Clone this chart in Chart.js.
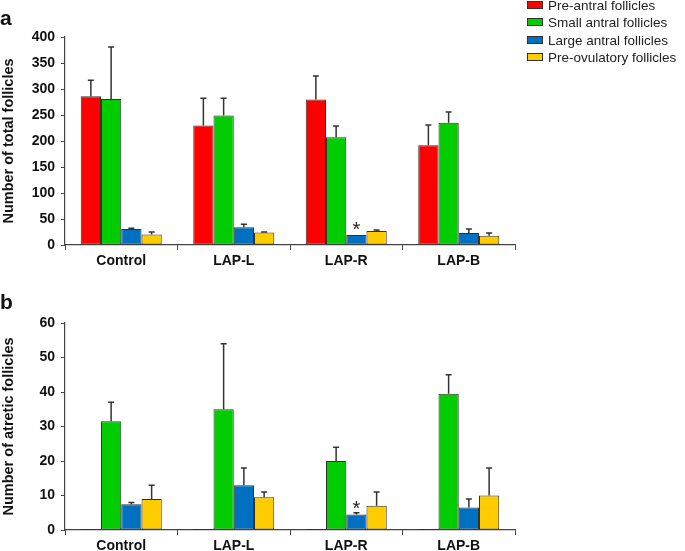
<!DOCTYPE html>
<html>
<head>
<meta charset="utf-8">
<script src="https://cdn.jsdelivr.net/npm/chart.js@4/dist/chart.umd.min.js"></script>
<style>
  body { margin: 0; background: #fff; font-family: "Liberation Sans", Arial, sans-serif; }
  #wrap { position: relative; width: 685px; height: 551px; overflow: hidden; }
  canvas { position: absolute; left: 0; }
  #chartA { top: 0; }
  #chartB { top: 275px; }
  .panel { position: absolute; left: 0; font-weight: bold; font-size: 21px; color: #111; }
  #legend { position: absolute; left: 527px; top: -3px; font-size: 13.5px; color: #222; }
  #legend div { height: 17.4px; line-height: 17.4px; white-space: nowrap; }
  #legend span.box { display: inline-block; width: 14px; height: 6px; border: 1px solid #333; margin-right: 5px; vertical-align: 1px; }
</style>
</head>
<body>
<div id="wrap">
  <canvas id="chartA" width="685" height="275"></canvas>
  <canvas id="chartB" width="685" height="276"></canvas>
  <div class="panel" style="top:6px">a</div>
  <div class="panel" style="top:290px">b</div>
  <div id="legend"></div>
</div>
<script>
// groups and series
const groups = ['Control', 'LAP-L', 'LAP-R', 'LAP-B'];
const seriesNames = ['Pre-antral follicles', 'Small antral follicles', 'Large antral follicles', 'Pre-ovulatory follicles'];
const seriesColors = ['#ff0000', '#00cc00', '#0070c0', '#ffcc00'];

// panel a - total follicles (mean, sd)
const totalPreAntral = [286, 230, 280, 192];
const totalPreAntralSd = [31, 52, 45, 39];
const totalSmallAntral = [281, 249, 207, 235];
const totalSmallAntralSd = [100, 33, 22, 21];
const totalLargeAntral = [31, 34, 19, 23];
const totalLargeAntralSd = [1, 6, 0, 8];
const totalPreOvulatory = [20, 24, 27, 18];
const totalPreOvulatorySd = [5, 1, 2, 5];
const totalTicks = [0, 50, 100, 150, 200, 250, 300, 350, 400];

// panel b - atretic follicles (mean, sd)
const atrPreAntral = [0, 0, 0, 0];
const atrPreAntralSd = [0, 0, 0, 0];
const atrSmallAntral = [31.5, 35, 20, 39.5];
const atrSmallAntralSd = [5.5, 19, 4, 5.5];
const atrLargeAntral = [7.5, 13, 4.5, 6.5];
const atrLargeAntralSd = [0.5, 5, 0.5, 2.5];
const atrPreOvulatory = [9, 9.5, 7, 10];
const atrPreOvulatorySd = [4, 1.5, 4, 8];
const atrTicks = [0, 10, 20, 30, 40, 50, 60];

// significance mark: [series index, group index]
const starMarks = [[2, 2]];

const FONT = '"Liberation Sans", Arial, sans-serif';

// html legend
const legendEl = document.getElementById('legend');
seriesNames.forEach((n, i) => {
  const row = document.createElement('div');
  row.innerHTML = '<span class="box" style="background:' + seriesColors[i] + '"></span>' + n;
  legendEl.appendChild(row);
});

// error bars, zero-height bars and asterisks
const errorBars = {
  id: 'errorBars',
  afterDatasetsDraw(chart) {
    const ctx = chart.ctx;
    const yScale = chart.scales.y;
    ctx.save();
    chart.data.datasets.forEach((ds, i) => {
      const meta = chart.getDatasetMeta(i);
      meta.data.forEach((bar, j) => {
        const v = ds.data[j];
        const sd = ds.sd[j];
        ctx.strokeStyle = '#333';
        if (v === 0) {
          ctx.lineWidth = 1;
          ctx.beginPath();
          ctx.moveTo(bar.x - bar.width / 2, bar.y - 0.5);
          ctx.lineTo(bar.x + bar.width / 2, bar.y - 0.5);
          ctx.stroke();
        }
        let top = bar.y;
        if (sd > 0) {
          top = yScale.getPixelForValue(v + sd);
          ctx.lineWidth = 1.5;
          ctx.beginPath();
          ctx.moveTo(bar.x, bar.y);
          ctx.lineTo(bar.x, top);
          ctx.moveTo(bar.x - 3, top);
          ctx.lineTo(bar.x + 3, top);
          ctx.stroke();
        }
        starMarks.forEach(m => {
          if (m[0] === i && m[1] === j) {
            ctx.fillStyle = '#222';
            ctx.font = '20px ' + FONT;
            ctx.textAlign = 'center';
            ctx.textBaseline = 'alphabetic';
            ctx.fillText('*', bar.x, bar.y + 1);
          }
        });
      });
    });
    ctx.restore();
  }
};

function makeDatasets(vals, sds) {
  return vals.map((v, i) => ({
    label: seriesNames[i],
    data: v,
    sd: sds[i],
    backgroundColor: seriesColors[i],
    borderColor: '#333',
    borderWidth: 1,
    borderSkipped: false,
    categoryPercentage: 0.72,
    barPercentage: 1
  }));
}

function makeConfig(datasets, ticks, title, padTop, axisH) {
  return {
    type: 'bar',
    data: { labels: groups, datasets: datasets },
    options: {
      responsive: false,
      animation: false,
      layout: { padding: { top: padTop, right: 170, left: 0, bottom: 0 } },
      plugins: { legend: { display: false }, tooltip: { enabled: false } },
      scales: {
        x: {
          grid: { drawOnChartArea: false, drawTicks: true, tickLength: 5, color: '#444', offset: true },
          border: { color: '#444', width: 1.2 },
          ticks: { color: '#111', font: { family: FONT, size: 14, weight: 'bold' }, padding: 3 },
          afterFit: s => { s.height = axisH; }
        },
        y: {
          min: ticks[0],
          max: ticks[ticks.length - 1],
          afterBuildTicks: s => { s.ticks = ticks.map(t => ({ value: t })); },
          grid: { drawOnChartArea: false, drawTicks: true, tickLength: 4, color: '#444' },
          border: { color: '#444', width: 1.2 },
          ticks: { color: '#111', font: { family: FONT, size: 14, weight: 'bold' }, padding: 6 },
          title: { display: true, text: title, color: '#111', font: { family: FONT, size: 14.5, weight: 'bold' }, padding: { top: 0, bottom: 0 } },
          afterFit: s => { s.width = 65; }
        }
      }
    },
    plugins: [errorBars]
  };
}

new Chart(document.getElementById('chartA'), makeConfig(
  makeDatasets([totalPreAntral, totalSmallAntral, totalLargeAntral, totalPreOvulatory],
               [totalPreAntralSd, totalSmallAntralSd, totalLargeAntralSd, totalPreOvulatorySd]),
  totalTicks, 'Number of total follicles', 37, 30));

new Chart(document.getElementById('chartB'), makeConfig(
  makeDatasets([atrPreAntral, atrSmallAntral, atrLargeAntral, atrPreOvulatory],
               [atrPreAntralSd, atrSmallAntralSd, atrLargeAntralSd, atrPreOvulatorySd]),
  atrTicks, 'Number of atretic follicles', 48, 21));
</script>
</body>
</html>
